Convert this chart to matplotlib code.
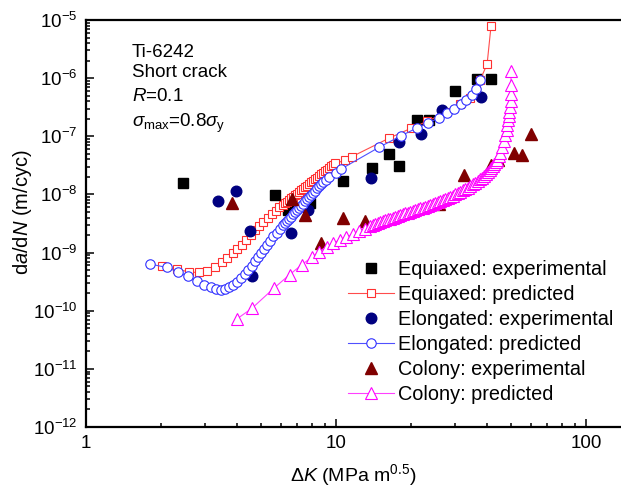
import matplotlib
matplotlib.use("Agg")
import matplotlib.pyplot as plt
from matplotlib.ticker import LogLocator, NullFormatter, FuncFormatter

plt.rcParams['font.family'] = ['Liberation Sans', 'DejaVu Sans']
plt.rcParams['mathtext.fontset'] = 'custom'
plt.rcParams['mathtext.rm'] = 'Liberation Sans'
plt.rcParams['mathtext.it'] = 'Liberation Sans:italic'
plt.rcParams['mathtext.bf'] = 'Liberation Sans:bold'

# ---- experimental data ----
eq_exp_K = [2.45, 5.68, 6.44, 7.87, 10.7, 13.97, 16.3, 17.9, 21.1, 23.6, 29.9, 36.5, 41.7]
eq_exp_da = [1.60e-8, 9.66e-9, 5.43e-9, 7.09e-9, 1.69e-8, 2.83e-8, 4.99e-8, 3.14e-8,
             1.91e-7, 1.91e-7, 6.03e-7, 9.68e-7, 9.68e-7]

el_exp_K = [3.38, 3.97, 4.53, 4.63, 6.59, 7.75, 13.8, 17.9, 21.8, 26.5, 37.9]
el_exp_da = [7.61e-9, 1.15e-8, 2.31e-9, 3.95e-10, 2.21e-9, 5.43e-9, 1.91e-8, 8.01e-8,
             1.10e-7, 2.79e-7, 4.70e-7]

co_exp_K = [3.83, 6.69, 7.54, 8.68, 10.7, 13.1, 25.7, 32.5, 41.5, 44.6, 51.3, 55.3, 60.1]
co_exp_da = [7.26e-9, 8.40e-9, 4.46e-9, 1.49e-9, 3.96e-9, 3.45e-9, 6.76e-9, 2.13e-8,
             3.16e-8, 3.93e-8, 5.19e-8, 4.70e-8, 1.09e-7]

# ---- predicted curves ----
eq_pred_K = [2.01, 2.31, 2.59, 2.83, 3.06, 3.28, 3.49, 3.67, 3.86, 4.03, 4.20, 4.37, 4.56,
             4.74, 4.93, 5.12, 5.33, 5.53, 5.74, 5.93, 6.16, 6.25, 6.37, 6.49, 6.61, 6.73,
             6.85, 6.98, 7.11, 7.24, 7.38, 7.52, 7.66, 7.80, 7.94, 8.09, 8.24, 8.39, 8.55,
             8.71, 8.87, 9.04, 9.20, 9.38, 9.55, 9.73, 9.91, 10.9, 11.6, 16.3, 20.0, 23.1,
             27.5, 31.3, 34.4, 36.3, 37.7, 40.2, 41.7]
eq_pred_da = [5.77e-10, 5.20e-10, 4.62e-10, 4.55e-10, 4.73e-10, 5.55e-10, 6.76e-10, 8.04e-10,
              9.79e-10, 1.15e-9, 1.36e-9, 1.66e-9, 2.02e-9, 2.47e-9, 2.92e-9, 3.42e-9,
              4.01e-9, 4.64e-9, 5.29e-9, 5.96e-9, 6.70e-9, 7.06e-9, 7.52e-9, 8.01e-9,
              8.53e-9, 9.10e-9, 9.68e-9, 1.03e-8, 1.10e-8, 1.17e-8, 1.25e-8, 1.33e-8,
              1.42e-8, 1.51e-8, 1.61e-8, 1.71e-8, 1.82e-8, 1.94e-8, 2.07e-8, 2.21e-8,
              2.35e-8, 2.51e-8, 2.67e-8, 2.84e-8, 3.03e-8, 3.23e-8, 3.44e-8, 3.85e-8,
              4.48e-8, 9.27e-8, 1.38e-7, 1.80e-7, 2.57e-7, 3.53e-7, 4.48e-7, 6.27e-7,
              9.31e-7, 1.73e-6, 7.98e-6]

el_pred_K = [1.81, 2.10, 2.34, 2.57, 2.77, 2.97, 3.15, 3.31, 3.46, 3.60, 3.73, 3.88, 4.03,
             4.17, 4.31, 4.46, 4.60, 4.74, 4.88, 5.01, 5.15, 5.30, 5.45, 5.61, 5.79, 5.97,
             6.16, 6.25, 6.37, 6.49, 6.61, 6.73, 6.85, 6.98, 7.11, 7.24, 7.38, 7.52, 7.66,
             7.80, 7.94, 8.09, 8.24, 8.39, 8.55, 8.71, 8.87, 9.12, 9.40, 9.97, 10.5, 14.9,
             18.2, 21.0, 23.4, 25.7, 27.7, 29.6, 31.5, 33.1, 34.9, 36.4, 37.8]
el_pred_da = [6.34e-10, 5.55e-10, 4.62e-10, 3.88e-10, 3.27e-10, 2.80e-10, 2.51e-10, 2.36e-10,
              2.30e-10, 2.36e-10, 2.51e-10, 2.80e-10, 3.18e-10, 3.65e-10, 4.27e-10, 5.06e-10,
              5.93e-10, 7.03e-10, 8.38e-10, 9.79e-10, 1.15e-9, 1.36e-9, 1.60e-9, 1.89e-9,
              2.21e-9, 2.56e-9, 3.00e-9, 3.23e-9, 3.52e-9, 3.84e-9, 4.17e-9, 4.55e-9,
              4.94e-9, 5.40e-9, 5.86e-9, 6.40e-9, 6.98e-9, 7.59e-9, 8.28e-9, 9.02e-9,
              9.80e-9, 1.07e-8, 1.16e-8, 1.27e-8, 1.38e-8, 1.50e-8, 1.64e-8, 1.78e-8,
              1.98e-8, 2.32e-8, 2.75e-8, 6.50e-8, 1.02e-7, 1.38e-7, 1.72e-7, 2.05e-7,
              2.49e-7, 2.96e-7, 3.56e-7, 4.22e-7, 5.20e-7, 6.61e-7, 9.31e-7]

co_pred_K = [4.01, 4.61, 5.65, 6.52, 7.29, 8.00, 8.57, 9.18, 9.75, 10.4, 11.0, 11.7, 12.4,
             13.1, 13.7, 14.0, 14.3, 14.66, 15.0, 15.35, 15.7, 16.07, 16.4, 16.83, 17.2,
             17.62, 18.0, 18.45, 18.9, 19.32, 19.8, 20.23, 20.7, 21.18, 21.7, 22.18, 22.7,
             23.23, 23.8, 24.32, 24.9, 25.47, 26.1, 26.67, 27.3, 27.93, 28.6, 29.24, 29.9,
             30.62, 31.3, 32.06, 32.8, 33.57, 34.4, 35.16, 36.0, 36.81, 37.7, 38.37, 39.1,
             39.81, 40.6, 41.11, 41.7, 42.27, 42.9, 43.45, 44.1, 44.67, 45.3, 46.1, 47.0,
             47.6, 48.1, 48.4, 48.8, 49.1, 49.3, 49.7, 49.9, 50.1, 50.1, 50.1]
co_pred_da = [7.20e-11, 1.10e-10, 2.45e-10, 4.16e-10, 6.17e-10, 8.30e-10, 1.04e-9, 1.27e-9,
              1.46e-9, 1.66e-9, 1.85e-9, 2.08e-9, 2.31e-9, 2.53e-9, 2.81e-9, 2.93e-9,
              3.06e-9, 3.18e-9, 3.32e-9, 3.45e-9, 3.59e-9, 3.72e-9, 3.85e-9, 3.99e-9,
              4.12e-9, 4.27e-9, 4.41e-9, 4.55e-9, 4.70e-9, 4.86e-9, 5.02e-9, 5.20e-9,
              5.37e-9, 5.55e-9, 5.73e-9, 5.92e-9, 6.12e-9, 6.34e-9, 6.58e-9, 6.83e-9,
              7.10e-9, 7.38e-9, 7.67e-9, 8.00e-9, 8.34e-9, 8.71e-9, 9.10e-9, 9.53e-9,
              1.00e-8, 1.05e-8, 1.11e-8, 1.17e-8, 1.24e-8, 1.31e-8, 1.39e-8, 1.49e-8,
              1.58e-8, 1.69e-8, 1.82e-8, 1.95e-8, 2.09e-8, 2.26e-8, 2.44e-8, 2.62e-8,
              2.81e-8, 3.04e-8, 3.29e-8, 3.59e-8, 3.93e-8, 4.52e-8, 5.19e-8, 6.58e-8,
              8.34e-8, 1.06e-7, 1.29e-7, 1.57e-7, 1.88e-7, 2.24e-7, 2.63e-7, 3.20e-7,
              4.06e-7, 5.36e-7, 7.64e-7, 1.33e-6]

labels = ["Equiaxed: experimental", "Equiaxed: predicted",
          "Elongated: experimental", "Elongated: predicted",
          "Colony: experimental", "Colony: predicted"]

fig = plt.figure(figsize=(6.21, 4.88), dpi=100)
ax = fig.add_axes([86/621, 61/488, (621-86)/621, (427-20)/488])
ax.set_xscale('log')
ax.set_yscale('log')

ax.plot(eq_exp_K, eq_exp_da, ls='none', marker='s', ms=7.0, mfc='black', mec='black',
        label=labels[0])
ax.plot(eq_pred_K, eq_pred_da, ls='-', lw=0.8, color='#ff4c4c', marker='s', ms=6.3,
        mfc='white', mec='#ff3030', mew=0.8, label=labels[1])
ax.plot(el_exp_K, el_exp_da, ls='none', marker='o', ms=7.6, mfc='#000080', mec='#000080',
        label=labels[2])
ax.plot(el_pred_K, el_pred_da, ls='-', lw=0.8, color='#5050ff', marker='o', ms=6.8,
        mfc='white', mec='#3030ff', mew=0.8, label=labels[3])
ax.plot(co_exp_K, co_exp_da, ls='none', marker='^', ms=8.6, mfc='#800000', mec='#800000',
        label=labels[4])
ax.plot(co_pred_K, co_pred_da, ls='-', lw=0.8, color='#ff40ff', marker='^', ms=8.0,
        mfc='white', mec='#ff00ff', mew=0.8, label=labels[5])

ax.set_xlim(1, 138)
ax.set_ylim(1e-12, 1e-5)

ax.xaxis.set_major_locator(LogLocator(base=10, numticks=10))
ax.xaxis.set_minor_locator(LogLocator(base=10, subs=range(2, 10), numticks=20))
ax.yaxis.set_major_locator(LogLocator(base=10, numticks=10))
ax.yaxis.set_minor_locator(LogLocator(base=10, subs=range(2, 10), numticks=20))
ax.xaxis.set_minor_formatter(NullFormatter())
ax.yaxis.set_minor_formatter(NullFormatter())
ax.xaxis.set_major_formatter(FuncFormatter(lambda v, p: f"{v:g}"))

ax.tick_params(which='both', direction='in', top=False, right=False, labelsize=13.5,
               width=1.1)
ax.tick_params(which='major', length=6, pad=6)
ax.tick_params(which='minor', length=3)
for s in ['left', 'bottom', 'top']:
    ax.spines[s].set_linewidth(1.6)
ax.spines['right'].set_visible(False)

ax.set_xlabel(r"$\Delta K$ (MPa m$^{0.5}$)", fontsize=14, labelpad=7)
ax.set_ylabel(r"d$a$/d$N$ (m/cyc)", fontsize=14.5, va='center')
ax.yaxis.set_label_coords(-0.118, 0.528)

ax.text(0.0854, 0.921, "Ti-6242", transform=ax.transAxes, fontsize=13.5, va='center')
ax.text(0.0854, 0.870, "Short crack", transform=ax.transAxes, fontsize=13.5, va='center')
ax.text(0.0854, 0.811, r"$R$=0.1", transform=ax.transAxes, fontsize=13.5, va='center')
ax.text(0.0854, 0.745, r"$\sigma_{\rm max}$=0.8$\sigma_{\rm y}$", transform=ax.transAxes,
        fontsize=13.5, va='center')

leg = ax.legend(loc='upper left', bbox_to_anchor=(332/621, 1 - 244/488),
                bbox_transform=fig.transFigure, frameon=False, fontsize=14.3,
                handlelength=2.3, handletextpad=0.2, labelspacing=0.3, borderpad=0.3,
                numpoints=1)

fig.savefig("out.png", dpi=100)
